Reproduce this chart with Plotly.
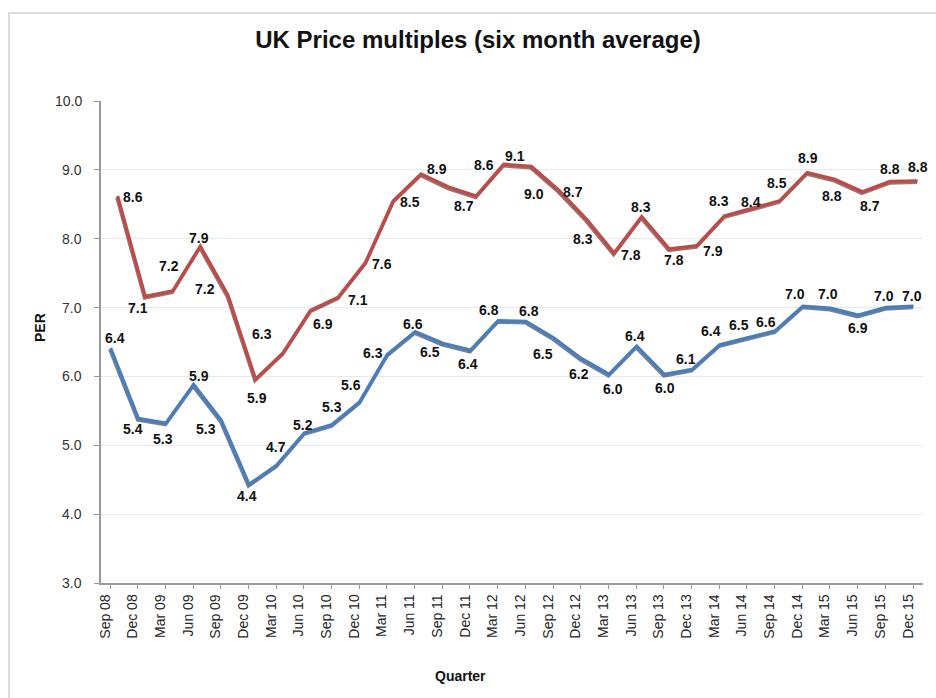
import plotly.graph_objects as go

# ---------------- data ----------------
quarters = ["Sep 08", "Dec 08", "Mar 09", "Jun 09", "Sep 09", "Dec 09", "Mar 10", "Jun 10",
            "Sep 10", "Dec 10", "Mar 11", "Jun 11", "Sep 11", "Dec 11", "Mar 12", "Jun 12",
            "Sep 12", "Dec 12", "Mar 13", "Jun 13", "Sep 13", "Dec 13", "Mar 14", "Jun 14",
            "Sep 14", "Dec 14", "Mar 15", "Jun 15", "Sep 15", "Dec 15"]

red_values = [8.60, 7.14, 7.22, 7.87, 7.16, 5.94, 6.32, 6.94, 7.13, 7.64, 8.53, 8.92, 8.73, 8.60,
              9.06, 9.03, 8.68, 8.26, 7.77, 8.30, 7.83, 7.88, 8.31, 8.42, 8.53, 8.94, 8.84, 8.66,
              8.81, 8.82]

blue_values = [6.39, 5.37, 5.30, 5.86, 5.34, 4.41, 4.69, 5.16, 5.28, 5.61, 6.30, 6.63, 6.46, 6.36,
               6.79, 6.78, 6.54, 6.24, 6.01, 6.42, 6.01, 6.08, 6.44, 6.54, 6.64, 7.00, 6.97, 6.87,
               6.98, 7.00]

y_ticks = [3, 4, 5, 6, 7, 8, 9, 10]

# ---------------- style (label offsets in px) ----------------
red_dx = [16, -7, -3, -1, -22, 2, -21, 13, 20, 17, 17, 17, 16, 8, 12, 3, 15, -3, 17, 0, 5, 17, -5, 0, -2, 1, -2, 8, 1, 1]
red_dy = [0, 10, -26, -10, -8, 17, -20, 12, 1, 0, 0, -6, 18, -32, -10, 26, 0, 18, 0, -11, 10, 4, -16, -8, -19, -16, 15, 13, -14, -15]
blue_dx = [5, -5, -2, 6, -15, -1, 0, -1, 0, -8, -14, -2, -12, -2, -9, 4, -10, -2, 5, -1, 1, -5, -8, -8, -9, -7, -2, 0, -1, -1]
blue_dy = [-12, 9, 14, -10, 7, 10, -20, -9, -19, -18, -3, -9, 7, 12, -12, -12, 15, 14, 13, -12, 12, -12, -15, -14, -10, -14, -16, 11, -13, -12]

W, H = 936, 698
L, R, T, B = 101, 923, 101, 583
PW, PH = R - L, B - T
N = len(quarters)
PPU = PH / 7.0

RED = "#BE4B48"
BLUE = "#4A7EBB"
FONT = "Liberation Sans, Arial, sans-serif"


def cat_range(first_px, last_px, shift=0.0):
    step = (last_px - first_px) / (N - 1)
    first_px += shift
    last_px += shift
    return [(L - first_px) / step, (N - 1) + (R - last_px) / step]


SX, SY = 0.6, 1.4  # main line offset above/right of its shadow, px

fig = go.Figure()

# shadows (drawn first, underneath)
fig.add_trace(go.Scatter(x=quarters, y=blue_values, xaxis="x", yaxis="y", mode="lines",
                         line=dict(color="rgba(15,25,45,0.55)", width=3.6), hoverinfo="skip",
                         showlegend=False))
fig.add_trace(go.Scatter(x=quarters, y=red_values, xaxis="x2", yaxis="y", mode="lines",
                         line=dict(color="rgba(45,15,15,0.55)", width=3.6), hoverinfo="skip",
                         showlegend=False))
# main lines
fig.add_trace(go.Scatter(x=quarters, y=blue_values, xaxis="x3", yaxis="y2", mode="lines",
                         line=dict(color=BLUE, width=3.4), name="Blue", showlegend=False))
fig.add_trace(go.Scatter(x=quarters, y=red_values, xaxis="x4", yaxis="y2", mode="lines",
                         line=dict(color=RED, width=3.4), name="Red", showlegend=False))

annotations = []
for q, v, dx, dy in zip(quarters, red_values, red_dx, red_dy):
    annotations.append(dict(x=q, y=v, xref="x2", yref="y", text=f"{v:.1f}", showarrow=False,
                            xshift=dx, yshift=-dy, xanchor="center", yanchor="middle",
                            font=dict(family=FONT, size=14, color="#111111", weight="bold")))
for q, v, dx, dy in zip(quarters, blue_values, blue_dx, blue_dy):
    annotations.append(dict(x=q, y=v, xref="x", yref="y", text=f"{v:.1f}", showarrow=False,
                            xshift=dx, yshift=-dy, xanchor="center", yanchor="middle",
                            font=dict(family=FONT, size=14, color="#111111", weight="bold")))

# y tick labels, placed through the y axis scale
for v in y_ticks:
    annotations.append(dict(x=(84 - L) / PW, y=v, xref="paper", yref="y", text=f"{v:.1f}",
                            showarrow=False, xanchor="right", yanchor="middle",
                            font=dict(family=FONT, size=14, color="#333333")))

# axis titles
annotations.append(dict(x=(40 - L) / PW, y=(B - 327) / PH, xref="paper", yref="paper",
                        text="<b>PER</b>", showarrow=False, textangle=-90,
                        xanchor="center", yanchor="middle",
                        font=dict(family=FONT, size=14, color="#111111")))
annotations.append(dict(x=(460 - L) / PW, y=(B - 676) / PH, xref="paper", yref="paper",
                        text="<b>Quarter</b>", showarrow=False,
                        xanchor="center", yanchor="middle",
                        font=dict(family=FONT, size=14, color="#111111")))

hidden = dict(type="category", visible=False, overlaying="x", showgrid=False, zeroline=False)

fig.update_layout(
    width=W, height=H,
    margin=dict(l=L, r=W - R, t=T, b=H - B, pad=0),
    paper_bgcolor="white", plot_bgcolor="white",
    showlegend=False,
    title=dict(text="<b>UK Price multiples (six month average)</b>",
               x=478 / W, xref="container", xanchor="center",
               y=1 - 40 / H, yref="container", yanchor="middle",
               font=dict(family=FONT, size=24, color="#111111")),
    xaxis=dict(type="category", range=cat_range(110, 913), showgrid=False, zeroline=False,
               showline=True, linecolor="#9a9a9a", linewidth=1.5,
               ticks="outside", ticklen=4, tickcolor="#9a9a9a", tickwidth=1,
               tickangle=-90, ticklabelshift=-5,
               tickfont=dict(family=FONT, size=14, color="#262626"), anchor="y"),
    xaxis2=dict(hidden, range=cat_range(117, 917), anchor="y"),
    xaxis3=dict(hidden, range=cat_range(110, 913, SX), anchor="y2"),
    xaxis4=dict(hidden, range=cat_range(117, 917, SX), anchor="y2"),
    yaxis=dict(range=[3, 10], tickvals=y_ticks, showticklabels=False,
               showgrid=True, gridcolor="#e9e9e9", gridwidth=1, zeroline=False,
               showline=True, linecolor="#9a9a9a", linewidth=1.5,
               ticks="outside", ticklen=5, tickcolor="#9a9a9a", anchor="x"),
    yaxis2=dict(range=[3 - SY / PPU, 10 - SY / PPU], overlaying="y", visible=False,
                showgrid=False, zeroline=False, anchor="x3"),
    annotations=annotations,
    shapes=[dict(type="rect", xref="paper", yref="paper", layer="below",
                 x0=(9 - L) / PW, x1=(945 - L) / PW, y0=(B - 710) / PH, y1=(B - 13) / PH,
                 line=dict(color="#cfcfcf", width=1.5), fillcolor="rgba(0,0,0,0)")],
)

fig.write_html("out.html", config={"displayModeBar": False},
               post_script="document.body.style.margin='0';")
